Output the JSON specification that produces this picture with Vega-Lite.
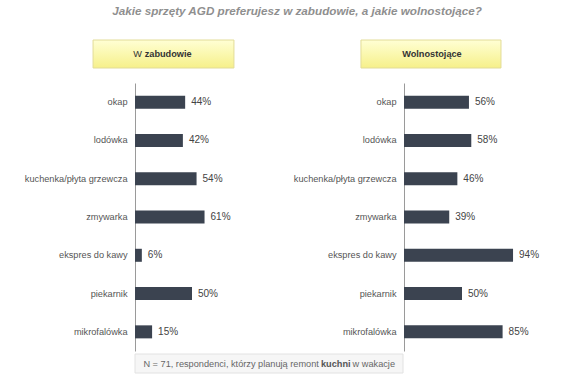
{
  "$schema": "https://vega.github.io/schema/vega-lite/v6.json",
  "padding": {"left": 5, "top": 5, "right": 5, "bottom": 5},
  "config": {"view": {"stroke": null}, "font": "Liberation Sans"},
  "title": {"text": "Jakie sprzęty AGD preferujesz w zabudowie, a jakie wolnostojące?", "fontSize": 11.7, "fontWeight": "bold", "fontStyle": "italic", "color": "#8f8f8f", "anchor": "middle", "offset": 22, "dx": 25},
  "spacing": 2,
  "vconcat": [
    {
      "spacing": 40,
      "hconcat": [
        {
          "spacing": 14,
          "vconcat": [
            {
              "width": 114, "height": 28,
              "data": {"values": [{"a": "W", "b": "zabudowie"}]},
              "encoding": {"y": {"datum": "h", "type": "nominal", "scale": {"paddingInner": 0, "paddingOuter": 0}, "axis": {"title": null, "labels": false, "ticks": false, "domain": false, "minExtent": 129, "maxExtent": 129}}},
              "layer": [
                {"mark": {"type": "rect", "stroke": "#e2dc98", "strokeWidth": 1, "fill": {"gradient": "linear", "x1": 0, "y1": 0, "x2": 0, "y2": 1, "stops": [{"offset": 0, "color": "#ffffd4"}, {"offset": 1, "color": "#f6f08a"}]}},
                 "encoding": {"x": {"datum": -0.368, "type": "quantitative", "scale": {"domain": [0, 1]}, "axis": null}, "x2": {"datum": 0.868}}},
                {"mark": {"type": "text", "align": "right", "fontSize": 9.2, "color": "#333"},
                 "encoding": {"x": {"datum": 0.06, "type": "quantitative"}, "text": {"field": "a"}}},
                {"mark": {"type": "text", "align": "left", "fontSize": 9.2, "fontWeight": "bold", "color": "#333"},
                 "encoding": {"x": {"datum": 0.085, "type": "quantitative"}, "text": {"field": "b"}}}
              ]
            },
            {
              "width": 114, "height": 268,
              "data": {"values": [
                {"item": "okap", "v": 0.44},
                {"item": "lodówka", "v": 0.42},
                {"item": "kuchenka/płyta grzewcza", "v": 0.54},
                {"item": "zmywarka", "v": 0.61},
                {"item": "ekspres do kawy", "v": 0.06},
                {"item": "piekarnik", "v": 0.50},
                {"item": "mikrofalówka", "v": 0.15}
              ]},
              "encoding": {
                "y": {"field": "item", "type": "nominal", "sort": null, "scale": {"paddingInner": 0, "paddingOuter": 0}, "axis": {"title": null, "ticks": false, "labelPadding": 8, "labelFontSize": 9.2, "labelColor": "#555", "domainColor": "#9a9a9a", "minExtent": 129, "maxExtent": 129}},
                "x": {"field": "v", "type": "quantitative", "scale": {"domain": [0, 1]}, "axis": null}
              },
              "layer": [
                {"mark": {"type": "bar", "color": "#3b4350", "height": {"band": 0.34}}},
                {"mark": {"type": "text", "align": "left", "dx": 6, "fontSize": 10, "color": "#444"}, "encoding": {"text": {"field": "v", "format": ".0%"}}}
              ]
            }
          ]
        },
        {
          "spacing": 14,
          "vconcat": [
            {
              "width": 116, "height": 28,
              "data": {"values": [{"a": "Wolnostojące"}]},
              "encoding": {"y": {"datum": "h", "type": "nominal", "scale": {"paddingInner": 0, "paddingOuter": 0}, "axis": {"title": null, "labels": false, "ticks": false, "domain": false, "minExtent": 115, "maxExtent": 115}}},
              "layer": [
                {"mark": {"type": "rect", "stroke": "#e2dc98", "strokeWidth": 1, "fill": {"gradient": "linear", "x1": 0, "y1": 0, "x2": 0, "y2": 1, "stops": [{"offset": 0, "color": "#ffffd4"}, {"offset": 1, "color": "#f6f08a"}]}},
                 "encoding": {"x": {"datum": -0.371, "type": "quantitative", "scale": {"domain": [0, 1]}, "axis": null}, "x2": {"datum": 0.836}}},
                {"mark": {"type": "text", "align": "center", "fontSize": 9.2, "fontWeight": "bold", "color": "#333"},
                 "encoding": {"x": {"datum": 0.241, "type": "quantitative"}, "text": {"field": "a"}}}
              ]
            },
            {
              "width": 116, "height": 268,
              "data": {"values": [
                {"item": "okap", "v": 0.56},
                {"item": "lodówka", "v": 0.58},
                {"item": "kuchenka/płyta grzewcza", "v": 0.46},
                {"item": "zmywarka", "v": 0.39},
                {"item": "ekspres do kawy", "v": 0.94},
                {"item": "piekarnik", "v": 0.50},
                {"item": "mikrofalówka", "v": 0.85}
              ]},
              "encoding": {
                "y": {"field": "item", "type": "nominal", "sort": null, "scale": {"paddingInner": 0, "paddingOuter": 0}, "axis": {"title": null, "ticks": false, "labelPadding": 8, "labelFontSize": 9.2, "labelColor": "#555", "domainColor": "#9a9a9a", "minExtent": 115, "maxExtent": 115}},
                "x": {"field": "v", "type": "quantitative", "scale": {"domain": [0, 1]}, "axis": null}
              },
              "layer": [
                {"mark": {"type": "bar", "color": "#3b4350", "height": {"band": 0.34}}},
                {"mark": {"type": "text", "align": "left", "dx": 6, "fontSize": 10, "color": "#444"}, "encoding": {"text": {"field": "v", "format": ".0%"}}}
              ]
            }
          ]
        }
      ]
    },
    {
      "width": 268, "height": 19,
      "data": {"values": [{"p1": "N = 71, respondenci, którzy planują remont", "p2": "kuchni", "p3": "w wakacje"}]},
      "encoding": {"y": {"datum": "f", "type": "nominal", "scale": {"paddingInner": 0, "paddingOuter": 0}, "axis": {"title": null, "labels": false, "ticks": false, "domain": false, "minExtent": 130, "maxExtent": 130}}},
      "layer": [
        {"mark": {"type": "rect", "fill": "#f6f6f6", "stroke": "#e2e2e2", "strokeWidth": 1},
         "encoding": {"x": {"datum": 0, "type": "quantitative", "scale": {"domain": [0, 1]}, "axis": null}, "x2": {"datum": 1}}},
        {"mark": {"type": "text", "align": "right", "fontSize": 9.2, "color": "#666"},
         "encoding": {"x": {"datum": 0.686, "type": "quantitative"}, "text": {"field": "p1"}}},
        {"mark": {"type": "text", "align": "left", "fontSize": 9.2, "fontWeight": "bold", "color": "#555"},
         "encoding": {"x": {"datum": 0.694, "type": "quantitative"}, "text": {"field": "p2"}}},
        {"mark": {"type": "text", "align": "left", "fontSize": 9.2, "color": "#666"},
         "encoding": {"x": {"datum": 0.812, "type": "quantitative"}, "text": {"field": "p3"}}}
      ]
    }
  ]
}
